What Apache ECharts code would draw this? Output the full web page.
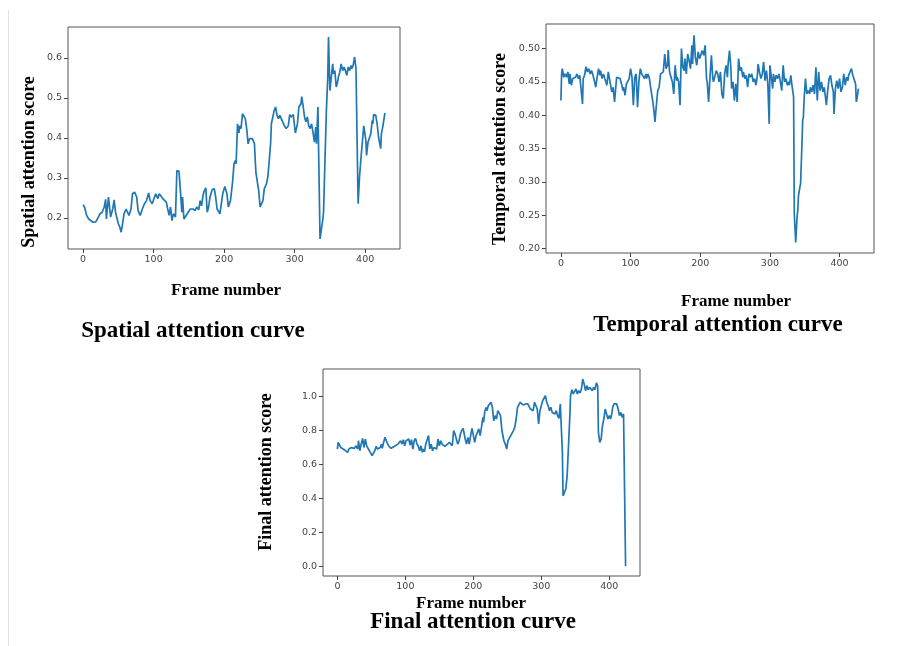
<!DOCTYPE html>
<html>
<head>
<meta charset="utf-8">
<script src="https://cdn.jsdelivr.net/npm/echarts@6/dist/echarts.min.js"></script>
<style>
	html, body { margin: 0; padding: 0; background: #fff; }
	#main { width: 900px; height: 646px; }
</style>
</head>
<body>
<div id="main"></div>
<script>
// tick labels
var xTicks = [0, 100, 200, 300, 400];
var spatialTicks = [0.2, 0.3, 0.4, 0.5, 0.6];
var temporalTicks = [0.20, 0.25, 0.30, 0.35, 0.40, 0.45, 0.50];
var finalTicks = [0.0, 0.2, 0.4, 0.6, 0.8, 1.0];

// spatial attention curve
var spatialFrames = [0,2,5,8,10,14,18,21,24,27,30,32,33,36,38,39,42,44,46,48,50,52,54,56,58,61,63,65,68,70,73,76,78,81,84,87,90,93,95,98,101,103,106,108,110,113,115,118,120,122,124,126,128,131,133,136,138,140,141,143,145,149,152,156,159,161,164,166,168,170,172,174,176,178,180,183,186,188,190,194,196,198,201,204,206,209,212,214,216,217,219,221,222,224,226,228,230,232,234,236,238,240,243,245,247,249,251,253,255,257,260,262,264,266,267,269,271,273,275,277,279,281,283,286,288,291,293,295,298,300,301,304,306,309,310,312,314,316,318,320,322,324,326,328,330,331,333,336,337,340,341,343,345,347,348,350,352,354,355,357,359,361,362,364,366,368,370,372,374,376,378,380,381,383,385,387,389,390,392,394,396,398,399,401,402,404,406,408,410,411,412,415,417,419,421,422,423,425,427,428];
var spatialScores = [0.233,0.227,0.206,0.197,0.193,0.189,0.19,0.2,0.21,0.214,0.227,0.246,0.197,0.252,0.256,0.202,0.222,0.245,0.214,0.21,0.185,0.177,0.164,0.185,0.21,0.222,0.218,0.206,0.222,0.26,0.264,0.252,0.218,0.206,0.222,0.235,0.243,0.262,0.243,0.235,0.25,0.26,0.248,0.26,0.256,0.248,0.25,0.239,0.222,0.206,0.227,0.193,0.21,0.202,0.318,0.316,0.268,0.214,0.252,0.197,0.202,0.214,0.222,0.222,0.218,0.227,0.22,0.243,0.23,0.256,0.268,0.275,0.214,0.227,0.252,0.27,0.273,0.252,0.222,0.21,0.214,0.26,0.278,0.26,0.227,0.243,0.29,0.335,0.343,0.335,0.435,0.412,0.43,0.423,0.46,0.462,0.448,0.423,0.385,0.398,0.402,0.398,0.385,0.314,0.31,0.268,0.227,0.235,0.243,0.273,0.285,0.302,0.343,0.389,0.435,0.44,0.468,0.477,0.456,0.448,0.456,0.452,0.44,0.428,0.423,0.43,0.458,0.452,0.458,0.427,0.412,0.435,0.477,0.485,0.503,0.48,0.452,0.44,0.452,0.43,0.423,0.435,0.414,0.389,0.427,0.385,0.477,0.147,0.152,0.197,0.214,0.343,0.468,0.552,0.652,0.518,0.552,0.585,0.56,0.568,0.527,0.54,0.552,0.564,0.585,0.568,0.577,0.568,0.556,0.577,0.568,0.581,0.573,0.581,0.602,0.573,0.343,0.235,0.302,0.348,0.352,0.43,0.418,0.393,0.356,0.389,0.393,0.41,0.443,0.435,0.458,0.456,0.435,0.402,0.398,0.373,0.41,0.428,0.424,0.462];

// temporal attention curve
var temporalFrames = [0,1,2,4,6,8,10,12,13,15,17,19,21,23,25,27,29,31,32,34,36,38,40,42,44,46,48,50,52,54,56,57,59,61,63,66,68,70,73,75,77,79,80,82,85,87,89,90,92,94,96,98,100,102,104,106,108,110,112,114,116,118,120,122,123,125,127,129,132,134,135,137,139,141,143,145,147,149,151,153,154,156,158,160,162,164,166,167,169,171,173,175,177,178,180,182,184,186,188,189,191,193,195,197,199,201,203,205,207,209,210,212,214,216,218,219,221,223,225,227,229,231,233,235,237,239,240,242,244,245,247,249,251,253,255,257,259,261,262,264,266,268,270,272,274,276,278,280,282,283,285,287,289,291,293,295,297,299,300,302,304,305,307,309,311,313,315,317,319,321,323,325,326,328,330,332,334,335,336,337,339,340,341,343,344,346,347,348,349,351,353,355,357,358,360,362,364,366,368,370,372,374,376,378,380,381,383,385,387,389,391,392,394,396,398,400,402,404,406,408,410,412,413,415,417,419,421,423,424,425,427,428];
var temporalScores = [0.422,0.462,0.47,0.457,0.462,0.457,0.465,0.447,0.462,0.445,0.455,0.452,0.457,0.462,0.455,0.46,0.457,0.417,0.455,0.46,0.473,0.465,0.47,0.462,0.467,0.46,0.452,0.442,0.457,0.47,0.46,0.467,0.455,0.462,0.455,0.445,0.465,0.462,0.435,0.442,0.42,0.445,0.457,0.46,0.455,0.447,0.437,0.442,0.43,0.447,0.45,0.455,0.47,0.457,0.415,0.457,0.462,0.412,0.452,0.47,0.462,0.465,0.455,0.462,0.455,0.462,0.455,0.44,0.42,0.402,0.39,0.415,0.437,0.442,0.462,0.46,0.465,0.492,0.47,0.475,0.498,0.465,0.467,0.45,0.432,0.475,0.452,0.457,0.45,0.415,0.5,0.472,0.467,0.485,0.462,0.492,0.482,0.47,0.505,0.477,0.52,0.487,0.475,0.495,0.485,0.482,0.497,0.49,0.505,0.455,0.45,0.42,0.457,0.49,0.455,0.45,0.447,0.467,0.462,0.45,0.465,0.432,0.425,0.462,0.475,0.457,0.477,0.497,0.47,0.44,0.45,0.422,0.447,0.42,0.485,0.467,0.472,0.457,0.465,0.455,0.46,0.442,0.462,0.457,0.462,0.45,0.455,0.445,0.46,0.477,0.465,0.455,0.462,0.48,0.452,0.467,0.447,0.387,0.475,0.457,0.44,0.462,0.45,0.46,0.455,0.462,0.45,0.437,0.475,0.45,0.455,0.445,0.45,0.445,0.46,0.442,0.427,0.252,0.249,0.209,0.247,0.257,0.279,0.292,0.297,0.357,0.392,0.397,0.422,0.455,0.432,0.437,0.432,0.442,0.435,0.445,0.432,0.472,0.422,0.465,0.437,0.45,0.435,0.442,0.425,0.415,0.437,0.455,0.46,0.445,0.435,0.402,0.44,0.452,0.44,0.455,0.435,0.442,0.462,0.445,0.457,0.452,0.46,0.462,0.47,0.46,0.462,0.447,0.42,0.425,0.44,0.44];

// final attention curve
var finalFrames = [0,1,3,5,7,10,12,15,17,20,22,25,27,30,31,33,35,37,39,41,43,45,47,49,51,53,55,57,59,61,63,65,66,68,70,72,74,76,79,81,84,86,89,91,93,95,97,99,101,103,105,107,109,111,113,115,117,119,121,123,125,126,128,130,132,134,136,138,140,142,144,146,148,150,152,154,156,158,160,162,165,167,169,171,173,175,177,179,181,183,185,187,188,190,192,194,196,198,200,202,204,206,208,210,212,214,215,217,219,220,222,224,226,228,230,232,234,236,238,240,242,243,245,247,249,251,253,255,257,259,261,263,265,267,269,271,273,275,277,279,280,282,284,286,288,290,292,294,296,298,300,302,304,306,308,310,312,314,316,318,320,322,324,326,328,329,331,332,334,336,338,340,342,343,345,347,349,351,353,355,357,359,361,363,365,367,369,371,373,375,377,379,381,383,384,386,388,390,392,394,396,398,400,402,404,405,407,409,411,413,415,417,419,421,423,424];
var finalScores = [0.691,0.73,0.72,0.70,0.695,0.687,0.681,0.671,0.691,0.699,0.707,0.695,0.71,0.691,0.74,0.681,0.72,0.754,0.70,0.75,0.71,0.72,0.681,0.667,0.652,0.661,0.681,0.707,0.691,0.681,0.70,0.72,0.695,0.73,0.76,0.74,0.72,0.707,0.695,0.70,0.707,0.715,0.72,0.71,0.74,0.72,0.746,0.71,0.74,0.73,0.75,0.715,0.746,0.691,0.74,0.754,0.72,0.707,0.681,0.71,0.671,0.691,0.675,0.72,0.746,0.77,0.691,0.72,0.681,0.70,0.71,0.691,0.75,0.71,0.74,0.72,0.726,0.707,0.715,0.72,0.73,0.74,0.71,0.80,0.78,0.79,0.72,0.74,0.78,0.80,0.813,0.82,0.75,0.72,0.76,0.72,0.77,0.813,0.82,0.73,0.77,0.76,0.81,0.77,0.82,0.878,0.848,0.917,0.937,0.917,0.947,0.957,0.967,0.937,0.858,0.888,0.868,0.917,0.927,0.888,0.80,0.79,0.74,0.72,0.691,0.74,0.75,0.77,0.78,0.80,0.82,0.868,0.937,0.947,0.967,0.967,0.951,0.947,0.957,0.947,0.957,0.943,0.927,0.931,0.917,0.967,0.957,0.927,0.839,0.917,0.947,0.976,0.976,1.006,0.967,0.947,0.917,0.937,0.907,0.917,0.898,0.917,0.888,0.872,0.957,0.858,0.671,0.415,0.405,0.455,0.533,0.71,0.888,1.006,1.041,1.016,1.026,1.045,1.016,1.035,1.022,1.045,1.104,1.075,1.035,1.065,1.041,1.055,1.045,1.035,1.055,1.041,1.081,1.061,0.789,0.73,0.75,0.829,0.868,0.927,0.898,0.868,0.888,0.868,0.907,0.937,0.957,0.961,0.957,0.927,0.888,0.907,0.878,0.898,0.898,0.0];

function pairs(xs, ys) {
	return xs.map(function (x, i) { return [x, ys[i]]; });
}

var tickFont = 'DejaVu Sans';
var serif = '"Liberation Serif", "Times New Roman", serif';
var lineColor = '#1f77b4';

function makeX(idx, min, max) {
	return {
		type: 'value', gridIndex: idx, min: min, max: max,
		axisLine: { show: false, onZero: false },
		splitLine: { show: false },
		axisTick: { show: true, length: 4, customValues: xTicks, lineStyle: { color: '#444' } },
		axisLabel: { customValues: xTicks, fontFamily: tickFont, fontSize: 9.5, color: '#444', margin: 6 }
	};
}
function makeY(idx, min, max, ticks, digits) {
	return {
		type: 'value', gridIndex: idx, min: min, max: max,
		axisLine: { show: false, onZero: false },
		splitLine: { show: false },
		axisTick: { show: true, length: 4, customValues: ticks, lineStyle: { color: '#444' } },
		axisLabel: {
			customValues: ticks, fontFamily: tickFont, fontSize: 9.5, color: '#444', margin: 6,
			formatter: function (v) { return v.toFixed(digits); }
		}
	};
}
function caption(text, x, y, size, rotate) {
	return {
		type: 'text', x: x, y: y, rotation: rotate ? Math.PI / 2 : 0,
		style: {
			text: text, fill: '#000', align: 'center', verticalAlign: 'middle',
			font: 'bold ' + size + 'px ' + serif
		}
	};
}

var myChart = echarts.init(document.getElementById('main'), null, { renderer: 'canvas' });
myChart.setOption({
	animation: false,
	backgroundColor: '#fff',
	grid: [
		{ left: 68, top: 27, width: 332, height: 222, show: true, borderColor: '#555', borderWidth: 1 },
		{ left: 546, top: 24, width: 328, height: 229, show: true, borderColor: '#555', borderWidth: 1 },
		{ left: 323, top: 369, width: 317, height: 207, show: true, borderColor: '#555', borderWidth: 1 }
	],
	xAxis: [
		makeX(0, -21.4, 449.4),
		makeX(1, -21.4, 449.4),
		makeX(2, -21.2, 445.2)
	],
	yAxis: [
		makeY(0, 0.122, 0.677, spatialTicks, 1),
		makeY(1, 0.193, 0.537, temporalTicks, 2),
		makeY(2, -0.058, 1.163, finalTicks, 1)
	],
	series: [
		{ type: 'line', xAxisIndex: 0, yAxisIndex: 0, data: pairs(spatialFrames, spatialScores), showSymbol: false, lineStyle: { color: lineColor, width: 1.7 }, itemStyle: { color: lineColor } },
		{ type: 'line', xAxisIndex: 1, yAxisIndex: 1, data: pairs(temporalFrames, temporalScores), showSymbol: false, lineStyle: { color: lineColor, width: 1.7 }, itemStyle: { color: lineColor } },
		{ type: 'line', xAxisIndex: 2, yAxisIndex: 2, data: pairs(finalFrames, finalScores), showSymbol: false, lineStyle: { color: lineColor, width: 1.7 }, itemStyle: { color: lineColor } }
	],
	graphic: [
		{ type: 'line', shape: { x1: 8.5, y1: 10, x2: 8.5, y2: 646 }, style: { stroke: '#e2e2e2', lineWidth: 1 } },
		// spatial
		caption('Spatial attention score', 29, 162, 18, true),
		caption('Frame number', 226, 291, 17),
		caption('Spatial attention curve', 193, 331, 23),
		// temporal
		caption('Temporal attention score', 500, 149, 18, true),
		caption('Frame number', 736, 302, 17),
		caption('Temporal attention curve', 718, 325, 23),
		// final
		caption('Final attention score', 266, 472, 18, true),
		caption('Frame number', 471, 604, 17),
		caption('Final attention curve', 473, 622, 23)
	]
});
</script>
</body>
</html>
